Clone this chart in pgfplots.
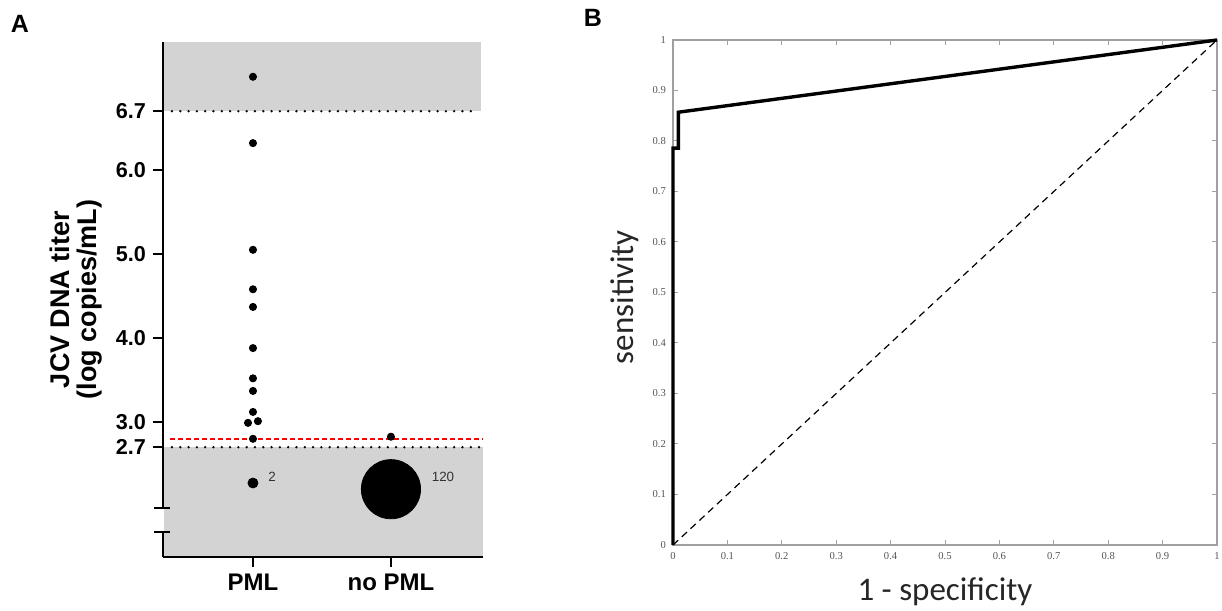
\documentclass[border=0pt]{standalone}
\usepackage{fontspec}
\setmainfont{Liberation Sans}
\newfontfamily\timesf{Liberation Serif}
\newfontfamily\calib{Carlito}
\usepackage{pgfplots}
\pgfplotsset{compat=1.18}
\definecolor{bandgray}{HTML}{D3D3D3}
\definecolor{rocgray}{HTML}{A0A0A0}
\definecolor{ticktxt}{HTML}{555555}
\definecolor{cnt}{HTML}{333333}

\begin{document}
\begin{tikzpicture}
\path[use as bounding box] (0,0) rectangle (611pt,305.5pt);
\node[font=\bfseries\fontsize{12.5}{14}\selectfont] at (10pt,293.5pt) {A};
\node[font=\bfseries\fontsize{12.5}{14}\selectfont] at (296.5pt,296.5pt) {B};

% panel A: JCV titer by group
\begin{axis}[
  at={(81.5pt,27pt)}, anchor=south west,
  scale only axis, width=160pt, height=257.5pt,
  xmin=0.348, xmax=2.667, ymin=1.393, ymax=7.524,
  axis x line*=bottom, axis y line*=left,
  axis line style={line width=1.25pt},
  xtick={1,2}, xticklabels={PML, no PML},
  ytick={2.7,3,4,5,6,6.7}, yticklabels={2.7,3.0,4.0,5.0,6.0,6.7},
  tick align=outside, major tick length=5pt,
  tick style={line width=1.25pt, black},
  y tick label style={font=\bfseries\fontsize{10.8}{12}\selectfont},
  x tick label style={font=\bfseries\fontsize{12}{13}\selectfont},
  ylabel={JCV DNA titer\\(log copies/mL)},
  ylabel style={align=center, font=\bfseries\fontsize{13.5}{13.8}\selectfont,
    at={(axis description cs:-0.272,0.5)}, anchor=center},
  clip=false,
]
% shaded bands, kept clear of the axis lines
\fill[bandgray] (axis cs:0.3575,6.7) rectangle (axis cs:2.652,7.524);
\fill[bandgray] (axis cs:0.3575,1.401) rectangle (axis cs:2.667,2.7);

% axis break
\fill[white] (axis cs:0.32,1.962) rectangle (axis cs:0.3575,1.704);
\draw[line width=1.25pt] (axis cs:0.283,1.976) -- (axis cs:0.399,1.976);
\draw[line width=1.25pt] (axis cs:0.283,1.690) -- (axis cs:0.399,1.690);

% tick marks, drawn again so they stay visible
\pgfplotsinvokeforeach{2.7,3,4,5,6,6.7}{
  \draw[line width=1.25pt] (axis cs:0.2755,#1) -- (axis cs:0.348,#1);
}
\pgfplotsinvokeforeach{1,2}{
  \draw[line width=1.25pt] (axis cs:#1,1.274) -- (axis cs:#1,1.393);
}

% thresholds
\addplot[black, line width=1.3pt, line cap=round, dash pattern=on 0pt off 4.15pt]
  coordinates {(0.413,6.7) (2.623,6.7)};
\addplot[black, line width=1.3pt, line cap=round, dash pattern=on 0pt off 4.15pt]
  coordinates {(0.413,2.7) (2.65,2.7)};
\addplot[red, line width=0.75pt, dash pattern=on 2.5pt off 1.5pt]
  coordinates {(0.399,2.80) (2.667,2.80)};

% PML
\addplot[only marks, mark=*, mark size=1.8pt, black] coordinates {
  (1,7.11) (1,6.32) (1,5.05) (1,4.58) (1,4.37) (1,3.88) (1,3.52)
  (1,3.37) (1,3.12) (0.964,2.99) (1.036,3.01) (1,2.80)
};
\addplot[only marks, mark=*, mark size=2.5pt, black] coordinates {(1,2.274)};
% no PML
\addplot[only marks, mark=*, mark size=1.8pt, black] coordinates {(2,2.825)};
\addplot[only marks, mark=*, mark size=14.8pt, black] coordinates {(2,2.20)};

\node[font=\fontsize{6.7}{8}\selectfont, text=cnt] at (axis cs:1.138,2.345) {2};
\node[font=\fontsize{6.7}{8}\selectfont, text=cnt] at (axis cs:2.377,2.345) {120};
\end{axis}

% panel B: ROC
\begin{axis}[
  at={(336.5pt,33pt)}, anchor=south west,
  scale only axis, width=272pt, height=252.5pt,
  xmin=0, xmax=1, ymin=0, ymax=1,
  xtick={0,0.1,0.2,0.3,0.4,0.5,0.6,0.7,0.8,0.9,1},
  ytick={0,0.1,0.2,0.3,0.4,0.5,0.6,0.7,0.8,0.9,1},
  axis line style={rocgray, line width=0.7pt},
  tick align=inside, major tick length=2.5pt,
  tick style={rocgray, line width=0.5pt},
  ticklabel style={font=\timesf\fontsize{5.3}{6}\selectfont, text=ticktxt},
  /pgf/number format/assume math mode=true,
  xlabel={1 - specificity}, ylabel={sensitivity},
  label style={font=\calib\fontsize{16.5}{18}\selectfont, text=black!85},
  xlabel style={at={(axis description cs:0.5,-0.093)}, anchor=center},
  ylabel style={at={(axis description cs:-0.088,0.491)}, anchor=center},
  clip=false,
]
\addplot[black, line width=0.6pt, dash pattern=on 3.5pt off 2.5pt]
  coordinates {(0,0) (1,1)};
\addplot[black, line width=1.7pt]
  coordinates {(0,0) (0,0.786) (0.01,0.786) (0.01,0.857) (1,1)};
\end{axis}
\end{tikzpicture}
\end{document}
